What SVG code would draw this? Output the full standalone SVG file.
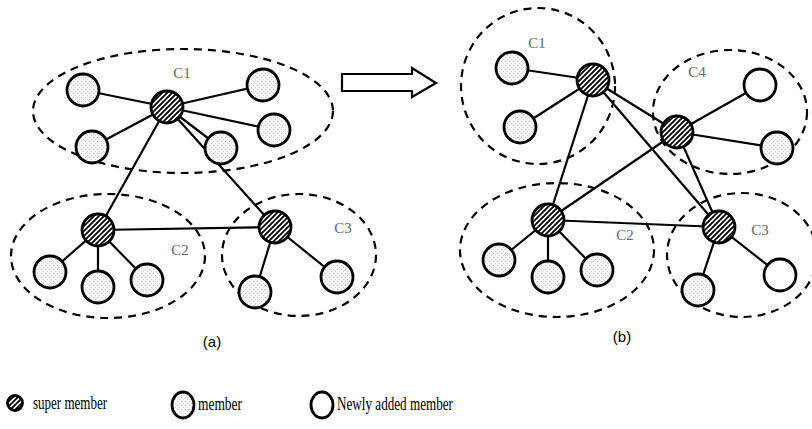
<svg xmlns="http://www.w3.org/2000/svg" width="812" height="429" viewBox="0 0 812 429">
<defs>
<pattern id="hatch" patternUnits="userSpaceOnUse" width="5" height="5">
<rect width="5" height="5" fill="#fff"/>
<path d="M-1,1 L1,-1 M0,5 L5,0 M4,6 L6,4" stroke="#000" stroke-width="1.8"/>
</pattern>
<pattern id="dots" patternUnits="userSpaceOnUse" width="4" height="4">
<rect width="4" height="4" fill="#f6f6f6"/>
<rect x="1" y="1" width="1" height="1" fill="#c4c4c4"/>
<rect x="3" y="3" width="1" height="1" fill="#dadada"/>
</pattern>
</defs>
<style>
.cl{fill:none;stroke:#000;stroke-width:2.2;stroke-dasharray:8,6}
.ln{stroke:#000;stroke-width:2.2;fill:none}
.sup{fill:url(#hatch);stroke:#000;stroke-width:2.8}
.mem{fill:url(#dots);stroke:#000;stroke-width:2.8}
.new{fill:#fff;stroke:#000;stroke-width:2.8}
.lab{font-family:"Liberation Serif",serif;font-size:15px;fill:#666;text-anchor:middle}
.cap{font-family:"Liberation Sans",sans-serif;font-size:15px;fill:#000;text-anchor:middle}
.leg{font-family:"Liberation Serif",serif;font-size:18px;fill:#000}
</style>
<rect width="812" height="429" fill="#fff"/>

<g id="connectors">
<line class="ln" x1="167" y1="107" x2="83" y2="90"/>
<line class="ln" x1="167" y1="107" x2="92" y2="147"/>
<line class="ln" x1="167" y1="107" x2="263" y2="85"/>
<line class="ln" x1="167" y1="107" x2="274" y2="130"/>
<line class="ln" x1="167" y1="107" x2="221" y2="148"/>
<line class="ln" x1="167" y1="107" x2="98" y2="230"/>
<line class="ln" x1="167" y1="107" x2="275" y2="227"/>
<line class="ln" x1="98" y1="230" x2="275" y2="227"/>
<line class="ln" x1="98" y1="230" x2="50" y2="272"/>
<line class="ln" x1="98" y1="230" x2="98" y2="287"/>
<line class="ln" x1="98" y1="230" x2="147" y2="280"/>
<line class="ln" x1="275" y1="227" x2="255" y2="292"/>
<line class="ln" x1="275" y1="227" x2="337" y2="277"/>
<line class="ln" x1="593" y1="80" x2="512" y2="68"/>
<line class="ln" x1="593" y1="80" x2="520" y2="127"/>
<line class="ln" x1="593" y1="80" x2="677" y2="132"/>
<line class="ln" x1="593" y1="80" x2="548" y2="220"/>
<line class="ln" x1="593" y1="80" x2="719" y2="227"/>
<line class="ln" x1="677" y1="132" x2="548" y2="220"/>
<line class="ln" x1="677" y1="132" x2="719" y2="227"/>
<line class="ln" x1="677" y1="132" x2="760" y2="85"/>
<line class="ln" x1="677" y1="132" x2="777" y2="148"/>
<line class="ln" x1="548" y1="220" x2="719" y2="227"/>
<line class="ln" x1="548" y1="220" x2="499" y2="260"/>
<line class="ln" x1="548" y1="220" x2="548" y2="277"/>
<line class="ln" x1="548" y1="220" x2="597" y2="270"/>
<line class="ln" x1="719" y1="227" x2="698" y2="290"/>
<line class="ln" x1="719" y1="227" x2="780" y2="275"/>
</g>

<g id="clusters">
<ellipse class="cl" cx="183" cy="111" rx="150" ry="62"/>
<ellipse class="cl" cx="108" cy="256" rx="97" ry="62"/>
<ellipse class="cl" cx="299" cy="255" rx="77" ry="61"/>
<ellipse class="cl" cx="538" cy="86" rx="77" ry="78"/>
<ellipse class="cl" cx="730" cy="112" rx="77" ry="62"/>
<ellipse class="cl" cx="557" cy="250" rx="97" ry="67"/>
<ellipse class="cl" cx="742" cy="255" rx="75" ry="62"/>
</g>

<g id="a-c1">
<text class="lab" x="182" y="78">C1</text>
<circle class="sup" cx="167" cy="107" r="16"/>
<circle class="mem" cx="83" cy="90" r="16"/>
<circle class="mem" cx="92" cy="147" r="16"/>
<circle class="mem" cx="263" cy="85" r="16"/>
<circle class="mem" cx="274" cy="130" r="16"/>
<circle class="mem" cx="221" cy="148" r="16"/>
</g>
<g id="a-c2">
<text class="lab" x="180" y="255">C2</text>
<circle class="sup" cx="98" cy="230" r="16"/>
<circle class="mem" cx="50" cy="272" r="16"/>
<circle class="mem" cx="98" cy="287" r="16"/>
<circle class="mem" cx="147" cy="280" r="16"/>
</g>
<g id="a-c3">
<text class="lab" x="343" y="233">C3</text>
<circle class="sup" cx="275" cy="227" r="16"/>
<circle class="mem" cx="255" cy="292" r="16"/>
<circle class="mem" cx="337" cy="277" r="16"/>
</g>

<g id="b-c1">
<text class="lab" x="537" y="48">C1</text>
<circle class="sup" cx="593" cy="80" r="16"/>
<circle class="mem" cx="512" cy="68" r="16"/>
<circle class="mem" cx="520" cy="127" r="16"/>
</g>
<g id="b-c4">
<text class="lab" x="697" y="77">C4</text>
<circle class="sup" cx="677" cy="132" r="16"/>
<circle class="new" cx="760" cy="85" r="16"/>
<circle class="mem" cx="777" cy="148" r="16"/>
</g>
<g id="b-c2">
<text class="lab" x="625" y="240">C2</text>
<circle class="sup" cx="548" cy="220" r="16"/>
<circle class="mem" cx="499" cy="260" r="16"/>
<circle class="mem" cx="548" cy="277" r="16"/>
<circle class="mem" cx="597" cy="270" r="16"/>
</g>
<g id="b-c3">
<text class="lab" x="760" y="235">C3</text>
<circle class="sup" cx="719" cy="227" r="16"/>
<circle class="mem" cx="698" cy="290" r="16"/>
<circle class="new" cx="780" cy="275" r="16"/>
</g>

<g id="arrow">
<polygon points="342,74 412,74 412,68 436,83 412,97 412,91 342,91" fill="#fff" stroke="#000" stroke-width="2.2"/>
</g>

<g id="captions">
<text class="cap" x="212" y="347">(a)</text>
<text class="cap" x="622" y="342">(b)</text>
</g>

<g id="legend">
<circle class="sup" cx="15" cy="403" r="7.5" stroke-width="2.2"/>
<text class="leg" x="33" y="409" textLength="74" lengthAdjust="spacingAndGlyphs">super member</text>
<ellipse class="mem" cx="183" cy="405" rx="11" ry="13"/>
<text class="leg" x="198" y="410" textLength="44" lengthAdjust="spacingAndGlyphs">member</text>
<ellipse class="new" cx="322" cy="405" rx="11" ry="13"/>
<text class="leg" x="337" y="410" textLength="116" lengthAdjust="spacingAndGlyphs">Newly added member</text>
</g>
</svg>
